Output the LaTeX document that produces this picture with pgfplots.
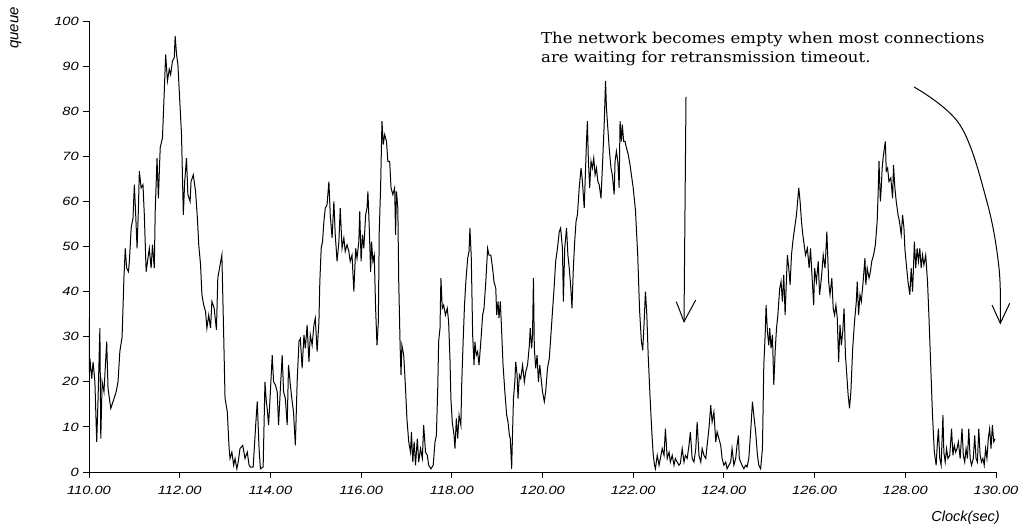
\documentclass[border=0pt]{standalone}
\usepackage{fontspec}
\usepackage{pgfplots}
\pgfplotsset{compat=1.18}
\usetikzlibrary{calc}
\newfontfamily\helv{Liberation Sans}
\newfontfamily\annot{DejaVu Serif}

% queue length sampled over the simulation clock
\pgfplotstableread{
t q
110.00 34
110.01 22
110.02 25.2
110.06 20.7
110.09 24.4
110.13 20
110.17 6.7
110.20 16.3
110.24 31.9
110.26 7.4
110.29 20
110.33 17.8
110.39 28.9
110.42 18.5
110.48 14.1
110.53 15.6
110.60 17.8
110.64 20
110.68 26.7
110.73 30
110.77 43
110.80 49.6
110.83 45.2
110.87 44.4
110.89 46.7
110.93 54.1
110.97 56.3
111.00 63.7
111.03 57
111.06 49.6
111.09 58.5
111.11 66.7
111.15 63
111.19 63.7
111.22 57
111.26 44.4
111.33 49.6
111.37 45.2
111.40 50.4
111.44 45.2
111.46 57.8
111.50 69.6
111.53 60.7
111.57 71.9
111.62 74.1
111.66 84.4
111.69 92.6
111.73 86.7
111.77 89.3
111.80 88.1
111.84 91.1
111.88 91.9
111.90 96.7
111.93 92.6
111.96 90.4
112.01 80.7
112.04 74.8
112.08 57
112.11 64.4
112.15 69.6
112.18 61.5
112.23 60
112.25 64.4
112.30 65.9
112.35 62.2
112.39 56.3
112.42 50.4
112.46 45.9
112.49 39.3
112.53 37
112.57 35.6
112.60 31.9
112.64 34.8
112.68 31.9
112.71 37.8
112.76 36.3
112.81 31.5
112.84 43
112.89 45.9
112.93 48.1
112.97 30.4
113.00 16.3
113.05 13.3
113.09 5.2
113.11 3
113.15 4.4
113.19 1.5
113.22 3
113.26 0.7
113.29 2.2
113.33 5.2
113.39 5.9
113.44 3
113.49 4.4
113.53 1.5
113.56 1.1
113.62 1.1
113.68 11.1
113.71 15.6
113.75 5.2
113.78 0.7
113.84 1.1
113.88 20
113.91 15.6
113.93 14
113.96 10.4
114.00 17.8
114.04 25.9
114.07 20
114.11 19.3
114.15 17.8
114.18 10.4
114.22 18.5
114.26 25.9
114.29 17.8
114.33 16.3
114.37 10.4
114.40 23.7
114.44 19.3
114.48 15.6
114.51 13.3
114.55 5.9
114.59 20
114.63 28.9
114.66 29.6
114.70 23
114.74 30.4
114.77 27.4
114.81 32.6
114.85 24.4
114.88 30.4
114.92 28.1
114.96 32.6
114.99 34.1
115.03 26.7
115.07 33.3
115.09 42.2
115.12 49.6
115.15 51.1
115.18 55.6
115.21 58.5
115.25 59.3
115.29 64.4
115.32 57
115.36 51.9
115.40 60
115.43 52.6
115.47 46.7
115.51 51.1
115.54 58.5
115.58 49.6
115.62 51.9
115.65 48.9
115.69 50.4
115.73 48.9
115.76 46.7
115.80 48.1
115.84 40
115.88 49.6
115.91 47.4
115.95 51.1
115.97 57.8
116.00 46.7
116.03 52.6
116.06 49.6
116.10 57
116.13 58.5
116.15 62.2
116.18 54.1
116.21 44.4
116.23 51.1
116.26 46.7
116.29 48.1
116.32 36.3
116.35 28.1
116.38 33.3
116.40 53.3
116.43 63
116.46 77.8
116.49 72.6
116.52 74.8
116.56 73.3
116.59 68.9
116.63 68.9
116.66 63
116.70 61.5
116.74 63
116.76 52.6
116.78 62.2
116.81 58.5
116.83 42.2
116.86 28.1
116.88 21.5
116.90 28.1
116.94 25.9
116.98 18.5
117.01 11.9
117.05 6.7
117.09 4.4
117.11 8.9
117.14 2.2
117.17 6.7
117.20 1.5
117.24 7.4
117.27 2.2
117.31 5.2
117.35 3
117.38 10.4
117.42 4.4
117.46 3.7
117.49 1.5
117.54 0.7
117.59 1.5
117.63 6.7
117.66 8.1
117.69 18.5
117.71 28.9
117.74 31.9
117.76 43
117.79 36.3
117.82 37
117.86 34.8
117.90 36.3
117.93 33.3
117.96 25
117.98 16.3
118.01 11.1
118.05 8.1
118.07 5.2
118.10 11.9
118.13 7.4
118.16 12.6
118.20 10.4
118.22 20
118.25 28.9
118.28 37
118.31 42.2
118.35 47.4
118.38 48.9
118.40 54.1
118.43 47.4
118.46 30.4
118.49 23.7
118.51 28.9
118.54 25.9
118.57 26.7
118.60 23.7
118.64 28.9
118.68 34.8
118.71 36.3
118.75 42.2
118.79 49.6
118.82 48.1
118.86 48.1
118.90 45.2
118.93 42.2
118.97 40.7
118.99 34.8
119.02 37.8
119.04 34.1
119.07 37.8
119.10 31.1
119.13 23.7
119.17 17.8
119.21 12.6
119.24 11.1
119.27 8.1
119.29 7.4
119.32 0.7
119.34 8.9
119.36 16.3
119.39 20
119.41 24.4
119.44 21.5
119.46 16.3
119.49 21.5
119.52 20.7
119.56 23.7
119.60 20
119.63 22.2
119.67 23.7
119.71 28.1
119.73 31.9
119.76 27.4
119.78 30.4
119.80 43
119.82 27.4
119.85 23
119.88 25.9
119.91 20
119.94 23.7
119.97 20.7
120.00 17.8
120.04 15.6
120.07 17.8
120.11 23
120.15 25.2
120.18 29.6
120.22 35.6
120.26 41.5
120.29 46.7
120.33 49.6
120.37 53.3
120.40 54.1
120.44 49.6
120.46 37.8
120.49 49.6
120.53 54.1
120.56 48.1
120.59 45.2
120.62 41.5
120.65 36.3
120.68 45.2
120.71 51.1
120.74 55.6
120.77 57
120.81 63
120.85 67.4
120.88 64.4
120.92 58.5
120.94 64.4
120.97 73.3
120.99 77.8
121.01 69.6
121.04 63
121.07 68.9
121.10 67.4
121.13 69.6
121.16 65.9
121.19 67.4
121.22 64.4
121.25 63.7
121.29 60.7
121.32 67.4
121.36 77
121.39 86.7
121.41 80.7
121.44 76.3
121.47 71.9
121.51 67.4
121.54 65.9
121.58 61.5
121.60 68.9
121.63 71.1
121.66 68.9
121.69 63
121.71 77.8
121.74 73.3
121.76 77
121.79 73.3
121.82 73.3
121.85 71.9
121.89 70.4
121.93 68.1
121.96 65.9
122.00 63
122.05 58
122.10 48
122.14 36
122.18 29
122.21 27
122.24 33
122.27 40
122.30 35
122.33 26
122.37 17
122.41 9
122.44 4
122.47 1.5
122.49 0.7
122.53 3.7
122.57 1.5
122.60 3
122.64 5.2
122.68 3.7
122.71 9.6
122.75 3
122.79 4.4
122.82 2.2
122.86 3.7
122.90 1.5
122.93 3
122.97 2.2
123.01 1.5
123.04 1.9
123.08 5.2
123.12 2.2
123.15 3.7
123.19 3
123.23 5.9
123.26 8.9
123.30 3
123.34 2.2
123.38 5.2
123.41 11.1
123.45 3.7
123.49 2.2
123.52 5.2
123.56 3.7
123.60 3
123.63 5.9
123.67 9.6
123.71 14.8
123.74 11.1
123.78 13.3
123.82 6.7
123.85 8.9
123.89 7.4
123.93 5.9
123.96 3
124.00 1.5
124.04 2.2
124.07 0.7
124.11 1.5
124.15 2.2
124.18 5.2
124.22 1.5
124.26 3
124.29 5.9
124.32 8.1
124.34 3
124.37 2.2
124.40 1.5
124.44 0.7
124.48 1.5
124.51 1.1
124.55 3
124.59 8.9
124.63 15.6
124.66 12.6
124.70 8.9
124.74 3.7
124.77 1.5
124.81 0.7
124.85 5.2
124.88 23.7
124.91 30.4
124.93 37
124.96 31.1
124.99 28.1
125.01 31.9
125.04 27.4
125.07 30.4
125.10 19.3
125.13 26.7
125.16 31.9
125.19 34.8
125.23 40.7
125.26 42.2
125.29 37.8
125.32 43.7
125.35 34.8
125.38 43
125.40 48.1
125.43 45.2
125.46 41.5
125.49 48.1
125.52 51.1
125.56 54.1
125.60 57
125.62 59.3
125.65 63
125.68 60
125.71 55.6
125.74 52.6
125.76 51.1
125.80 48.1
125.84 49.6
125.88 45.2
125.91 49.6
125.95 42.2
125.98 37
126.00 45.2
126.04 42.2
126.08 46.7
126.11 39.3
126.15 43
126.19 48.1
126.23 45.2
126.27 53.3
126.31 42.2
126.34 39.3
126.38 43
126.41 36.3
126.44 34.8
126.47 37
126.50 34.1
126.53 24.4
126.56 32.6
126.59 28.1
126.62 31.1
126.65 36.3
126.68 25.9
126.71 21.5
126.74 17
126.77 14.1
126.80 17.8
126.84 27.4
126.88 33.3
126.92 37.8
126.94 42.2
126.97 34.8
127.00 39.3
127.03 37.8
127.07 42.2
127.11 47.4
127.13 41.5
127.16 45.2
127.20 43
127.23 44.4
127.26 46.7
127.30 48.1
127.34 50.4
127.38 55.6
127.40 61.5
127.42 68.9
127.45 60
127.47 63
127.49 67.4
127.51 69.6
127.54 71.9
127.56 73.3
127.58 66.7
127.61 67.4
127.64 64.4
127.68 65.2
127.72 60.7
127.74 68.1
127.77 63
127.80 60
127.84 57
127.87 55.6
127.91 52.6
127.94 57
127.97 54.1
127.99 49.6
128.03 45.2
128.06 42.2
128.10 39.3
128.13 45.2
128.16 40
128.18 45.2
128.20 51.1
128.23 45.2
128.26 49.6
128.29 46.7
128.32 49.6
128.35 45.2
128.38 48.1
128.41 45.9
128.45 48.1
128.49 42.2
128.52 34.8
128.56 23.7
128.60 12.6
128.64 4.4
128.68 1.5
128.70 5.2
128.73 9.6
128.76 3
128.79 1.5
128.83 12.6
128.85 4.4
128.88 2.2
128.91 5.2
128.94 3
128.98 3.7
129.02 9.6
129.05 3.7
129.08 5.9
129.11 4.4
129.14 5.2
129.17 6.7
129.21 3
129.25 9.6
129.28 3.7
129.31 2.2
129.34 5.2
129.37 3
129.40 9.6
129.43 3
129.46 1.5
129.50 3
129.53 8.1
129.56 3
129.59 2.2
129.62 9.6
129.65 3.7
129.68 2.2
129.71 3
129.74 1.5
129.77 5.2
129.80 3
129.83 7.4
129.86 9.6
129.89 5.2
129.92 10.4
129.95 6.7
129.98 7.4
}\queuedata

\begin{document}
\begin{tikzpicture}
\begin{axis}[
  at={(0pt,0pt)}, anchor=south west,
  scale only axis, width=907pt, height=451pt,
  xmin=110, xmax=130, ymin=0, ymax=100,
  axis lines*=left,
  axis line style={line width=0.9pt, black},
  tick align=outside, major tick length=6pt,
  tick style={line width=0.9pt, black},
  xtick={110,112,...,130}, ytick={0,10,...,100},
  xticklabel={\pgfmathprintnumber[fixed,fixed zerofill,precision=2]{\tick}},
  /pgf/number format/assume math mode=true,
  ticklabel style={font=\helv\itshape\fontsize{12}{13}\selectfont, xscale=1.22},
  xticklabel style={yshift=-5pt},
]
\addplot[black, line width=1pt] table[x=t, y=q] {\queuedata};
\coordinate (O) at (axis cs:110,0);
\end{axis}
\begin{scope}[shift={(O)}, x=1pt, y=1pt]
  % annotation text (anchored on the baseline of its last line)
  \node[font=\annot\fontsize{15}{19}\selectfont, xscale=1.1, anchor=base west, align=left, inner sep=0pt]
    at (452,409) {The network becomes empty when most connections\\are waiting for retransmission timeout.};
  % straight arrow
  \draw[line width=1pt] (597,375) -- (595,150.3);
  \draw[line width=1pt] (587.3,170.3) -- (595,150.3) -- (606.7,172);
  % curved arrow
  \draw[line width=1pt] plot[smooth, tension=0.6] coordinates {(825,385) (871,347) (898,270) (910,204) (911.3,148.7)};
  \draw[line width=1pt] (903,167) -- (911.3,148.7) -- (920.7,168.7);
  % axis titles
  \node[font=\helv\itshape\fontsize{14.5}{16}\selectfont, anchor=base east, inner sep=0pt] at (911,-50) {Clock(sec)};
  \node[font=\helv\itshape\fontsize{15}{17}\selectfont, rotate=90, anchor=east, inner sep=0pt] at (-73,465) {queue};
\end{scope}
\pgfresetboundingbox
\path[use as bounding box] ($(O)+(-89pt,-60pt)$) rectangle ($(O)+(942pt,472pt)$);
\end{tikzpicture}
\end{document}
